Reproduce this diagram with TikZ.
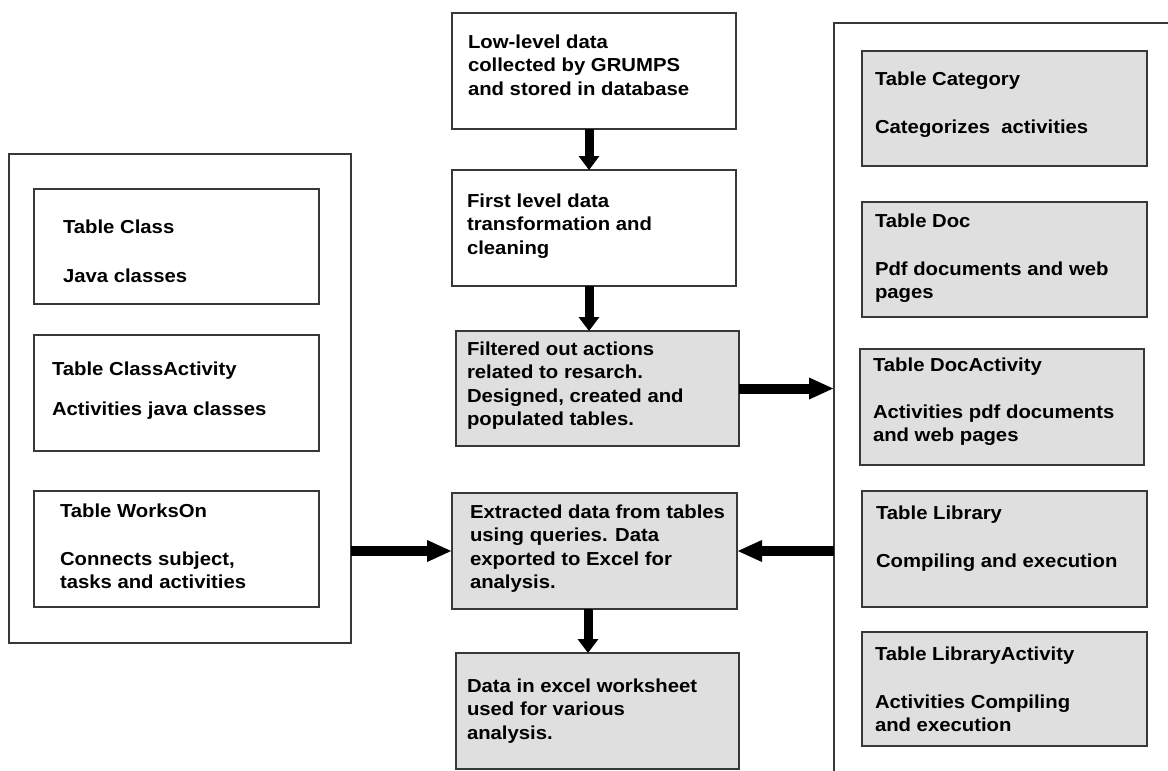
\documentclass[tikz,border=0pt]{standalone}
\usepackage{fontspec}
\setmainfont{Liberation Sans}[FakeStretch=1.08]
\usetikzlibrary{arrows.meta}
\tikzset{
  frame/.style={draw=black!78, line width=1.3pt, inner sep=0pt, outer sep=0pt, anchor=north west},
  plain/.style={frame, fill=white},
  shaded/.style={frame, fill=gray!25},
  txt/.style={anchor=north west, inner sep=0pt, outer sep=0pt, align=left, text=black,
    font=\fontsize{18.8}{23.5}\selectfont\bfseries},
  harrow/.style={draw=black, line width=10pt, -{Triangle[width=20pt,length=25pt]}},
  varrow/.style={draw=black, line width=9pt, -{Triangle[width=20pt,length=14pt]}},
}
\begin{document}
\begin{tikzpicture}[x=1pt,y=-1pt]
\clip (0,0) rectangle (1168,771);
\fill[white] (0,0) rectangle (1168,771);
% containers
\node[plain, minimum width=342pt, minimum height=489pt] (leftc) at (9,154) {};
\node[plain, minimum width=366pt, minimum height=777pt] (rightc) at (834,23) {};
% left tables
\node[plain, minimum width=285pt, minimum height=115pt] (cls) at (34,189) {};
\node[plain, minimum width=285pt, minimum height=116pt] (clsact) at (34,335) {};
\node[plain, minimum width=285pt, minimum height=116pt] (works) at (34,491) {};
% middle flow
\node[plain, minimum width=284pt, minimum height=116pt] (low) at (452,13) {};
\node[plain, minimum width=284pt, minimum height=116pt] (first) at (452,170) {};
\node[shaded, minimum width=283pt, minimum height=115pt] (filt) at (456,331) {};
\node[shaded, minimum width=285pt, minimum height=116pt] (extr) at (452,493) {};
\node[shaded, minimum width=283pt, minimum height=116pt] (excel) at (456,653) {};
% right tables
\node[shaded, minimum width=285pt, minimum height=115pt] (cat) at (862,51) {};
\node[shaded, minimum width=285pt, minimum height=115pt] (doc) at (862,202) {};
\node[shaded, minimum width=284pt, minimum height=116pt] (docact) at (860,349) {};
\node[shaded, minimum width=285pt, minimum height=116pt] (lib) at (862,491) {};
\node[shaded, minimum width=285pt, minimum height=114pt] (libact) at (862,632) {};
% texts
\node[txt] (tcls) at (63,219.5) {Table Class\\[25.5pt]Java classes};
\node[txt] (tclsact) at (52,361.5) {Table ClassActivity\\[16.5pt]Activities java classes};
\node[txt] (tworks) at (60,503.5) {Table WorksOn\\[24.5pt]Connects subject,\\tasks and activities};
\node[txt] (tlow) at (468,34.5) {Low-level data\\collected by GRUMPS\\and stored in database};
\node[txt] (tfirst) at (467,193.5) {First level data\\transformation and\\cleaning};
\node[txt] (tfilt) at (467,341.5) {Filtered out actions\\related to resarch.\\Designed, created and\\populated tables.};
\node[txt] (textr) at (470,504.5) {Extracted data from tables\\using queries. Data\\exported to Excel for\\analysis.};
\node[txt] (texcel) at (467,678.5) {Data in excel worksheet\\used for various\\analysis.};
\node[txt] (tcat) at (875,71.5) {Table Category\\[24.5pt]Categorizes\ \ activities};
\node[txt] (tdoc) at (875,213.5) {Table Doc\\[24.5pt]Pdf documents and web\\pages};
\node[txt] (tdocact) at (873,357.5) {Table DocActivity\\[23.5pt]Activities pdf documents\\and web pages};
\node[txt] (tlib) at (876,505.5) {Table Library\\[24.5pt]Compiling and execution};
\node[txt] (tlibact) at (875,646.5) {Table LibraryActivity\\[24.5pt]Activities Compiling\\and execution};
% connectors
\coordinate (ax) at (589,0);
\coordinate (bx) at (588,0);
\draw[varrow] (low.south -| ax) -- (first.north -| ax);
\draw[varrow] (first.south -| ax) -- (filt.north -| ax);
\draw[harrow] (filt.east) -- (filt.east -| rightc.west);
\draw[harrow] (extr.west -| leftc.east) -- (extr.west);
\draw[harrow] (extr.east -| rightc.west) -- (extr.east);
\draw[varrow] (extr.south -| bx) -- (excel.north -| bx);
\end{tikzpicture}
\end{document}
